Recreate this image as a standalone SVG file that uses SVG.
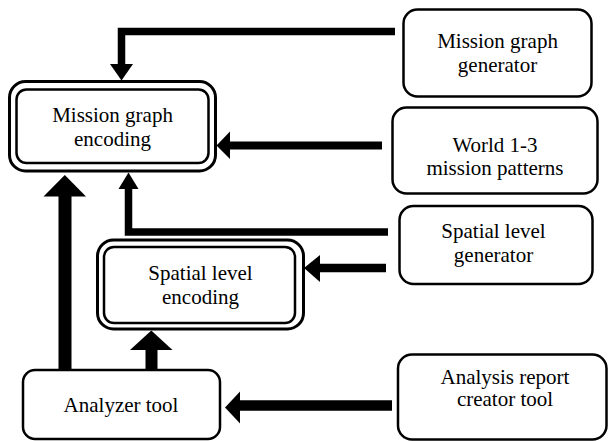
<svg xmlns="http://www.w3.org/2000/svg" width="609" height="441" viewBox="0 0 609 441">
<style>
.box{fill:#fff;stroke:#000;stroke-width:2.5}
.outer{fill:#fff;stroke:#000;stroke-width:3}
.inner{fill:none;stroke:#000;stroke-width:2.5}
text{font-family:'Liberation Serif','Times New Roman',Times,'DejaVu Serif',serif;font-size:21px;text-anchor:middle;fill:#000}
.c{fill:none;stroke:#000;stroke-linejoin:miter;stroke-linecap:butt}
.h{fill:#000}
</style>
<rect width="609" height="441" fill="#fff"/>
<g id="connectors">
<path class="c" d="M395,31.5 H121.5 V65" stroke-width="7.5"/>
<polygon class="h" points="110,64 133,64 121.5,80.5"/>
<path class="c" d="M382,145.5 H229" stroke-width="8"/>
<polygon class="h" points="230,131.5 230,159 216.5,145.5"/>
<path class="c" d="M388,232 H128.5 V188" stroke-width="7.5"/>
<polygon class="h" points="118.5,189 138.5,189 128.5,172.5"/>
<path class="c" d="M386,268 H319" stroke-width="8.5"/>
<polygon class="h" points="320,255 320,282 304,268"/>
<path class="c" d="M65,369 V195" stroke-width="13"/>
<polygon class="h" points="43.5,196.5 86,196.5 64.8,175"/>
<path class="c" d="M151.5,369 V349" stroke-width="12"/>
<polygon class="h" points="130,350 172.5,350 151.3,330.5"/>
<path class="c" d="M392,405.5 H239" stroke-width="10.5"/>
<polygon class="h" points="240,391.5 240,423.5 225,407.5"/>
</g>
<g id="mission-graph-encoding">
<rect class="outer" x="9.5" y="81.5" width="206" height="89.5" rx="16"/>
<rect class="inner" x="16.5" y="89.5" width="192" height="73.5" rx="10"/>
<text x="112.5" y="121.5" font-family="Liberation Serif, serif">Mission graph</text>
<text x="112.5" y="145.5" font-family="Liberation Serif, serif">encoding</text>
</g>
<g id="mission-graph-generator">
<rect class="box" x="403.5" y="9.5" width="188" height="87" rx="14"/>
<text x="497.5" y="48">Mission graph</text>
<text x="497.5" y="71.5">generator</text>
</g>
<g id="world-mission-patterns">
<rect class="box" x="392.5" y="107.5" width="205" height="86" rx="14"/>
<text x="495" y="152">World 1-3</text>
<text x="495" y="175">mission patterns</text>
</g>
<g id="spatial-level-generator">
<rect class="box" x="399.5" y="206" width="193" height="78" rx="14"/>
<text x="493.5" y="238">Spatial level</text>
<text x="493.5" y="262">generator</text>
</g>
<g id="spatial-level-encoding">
<rect class="outer" x="97.5" y="240" width="206" height="89" rx="16"/>
<rect class="inner" x="104" y="247" width="191" height="76" rx="10"/>
<text x="200.5" y="280">Spatial level</text>
<text x="200.5" y="303.5">encoding</text>
</g>
<g id="analyzer-tool">
<rect class="box" x="23" y="370" width="197" height="69" rx="12"/>
<text x="121" y="411.5">Analyzer tool</text>
</g>
<g id="analysis-report-creator-tool">
<rect class="box" x="398" y="354.5" width="208.5" height="85" rx="14"/>
<text x="505" y="384">Analysis report</text>
<text x="505" y="406">creator tool</text>
</g>
</svg>
